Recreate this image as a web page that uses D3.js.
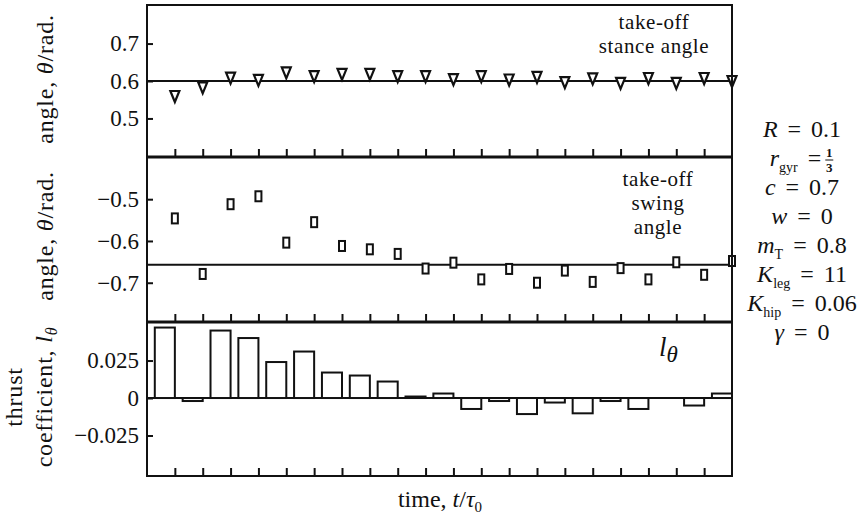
<!DOCTYPE html>
<html>
<head>
<meta charset="utf-8">
<script src="https://cdn.jsdelivr.net/npm/d3@7"></script>
<style>
  body { margin: 0; background: #fff; }
  svg text { font-family: "Liberation Serif", "Times New Roman", serif; fill: #111; }
</style>
</head>
<body>
<div id="viz"></div>
<script>
const width = 862;
const height = 522;

// step number along the time axis
const steps = [1, 2, 3, 4, 5, 6, 7, 8, 9, 10, 11, 12, 13, 14, 15, 16, 17, 18, 19, 20, 21];
const stepTicks = [1, 2, 3, 4, 5, 6, 7, 8, 9, 10, 11, 12, 13, 14, 15, 16, 17, 18, 19, 20];

// take-off stance angle (rad)
const stanceAngle = [0.560, 0.583, 0.609, 0.603, 0.623, 0.613, 0.619, 0.619, 0.613, 0.613, 0.605,
  0.613, 0.604, 0.611, 0.597, 0.607, 0.595, 0.608, 0.595, 0.608, 0.600];
const stanceRef = 0.6;

// take-off swing angle (rad)
const swingAngle = [-0.546, -0.679, -0.512, -0.493, -0.604, -0.555, -0.612, -0.620, -0.631, -0.666, -0.652,
  -0.692, -0.667, -0.700, -0.671, -0.698, -0.665, -0.692, -0.651, -0.681, -0.648];
const swingRef = -0.657;

// thrust coefficient l_theta
const thrust = [0.047, -0.002, 0.045, 0.040, 0.024, 0.031, 0.017, 0.015, 0.011, 0.001, 0.003,
  -0.0073, -0.002, -0.0107, -0.003, -0.0102, -0.002, -0.0073, 0, -0.005, 0.003];

const stanceTicks = [0.5, 0.6, 0.7];
const stanceLabels = ["0.5", "0.6", "0.7"];
const swingTicks = [-0.7, -0.6, -0.5];
const swingLabels = ["\u22120.7", "\u22120.6", "\u22120.5"];
const thrustTicks = [-0.025, 0, 0.025];
const thrustLabels = ["\u22120.025", "0", "0.025"];

// parameter list on the right
const paramSymbols = ["R", "r", "c", "w", "m", "K", "K", "\u03b3"];
const paramSubs = [null, "gyr", null, null, "T", "leg", "hip", null];
const paramValues = ["0.1", null, "0.7", "0", "0.8", "11", "0.06", "0"];

const svg = d3.select("#viz")
  .append("svg")
  .attr("width", width)
  .attr("height", height);

const left = 147, right = 732;
const x = d3.scaleLinear().domain([0, 21]).range([left, right]);

const yStance = d3.scaleLinear().domain([0.397, 0.803]).range([157, 5]);
const ySwing = d3.scaleLinear().domain([-0.794, -0.399]).range([322, 157]);
const yThrust = d3.scaleLinear().domain([-0.052, 0.0507]).range([476, 322]);

// y axes with inward ticks
function yAxis(scale, ticks, labels) {
  const g = svg.append("g")
    .attr("transform", `translate(${left},0)`)
    .call(d3.axisLeft(scale)
      .tickValues(ticks)
      .tickSize(-6)
      .tickPadding(8)
      .tickFormat((d, i) => labels[i]));
  g.select(".domain").remove();
  g.selectAll(".tick line").attr("stroke", "#111").attr("stroke-width", 2);
  g.selectAll(".tick text")
    .attr("font-size", 23)
    .attr("fill", "#111");
}
yAxis(yStance, stanceTicks, stanceLabels);
yAxis(ySwing, swingTicks, swingLabels);
yAxis(yThrust, thrustTicks, thrustLabels);

// x ticks at the bottom of every panel, pointing up
[157, 322, 476].forEach(yb => {
  const g = svg.append("g")
    .attr("transform", `translate(0,${yb})`)
    .call(d3.axisBottom(x).tickValues(stepTicks).tickSize(-8).tickFormat(""));
  g.select(".domain").remove();
  g.selectAll(".tick line").attr("stroke", "#111").attr("stroke-width", 2);
});

// reference lines
svg.append("line")
  .attr("x1", left).attr("x2", right)
  .attr("y1", yStance(stanceRef)).attr("y2", yStance(stanceRef))
  .attr("stroke", "#111").attr("stroke-width", 2);
svg.append("line")
  .attr("x1", left).attr("x2", right)
  .attr("y1", ySwing(swingRef)).attr("y2", ySwing(swingRef))
  .attr("stroke", "#111").attr("stroke-width", 2);
svg.append("line")
  .attr("x1", left).attr("x2", right)
  .attr("y1", yThrust(0)).attr("y2", yThrust(0))
  .attr("stroke", "#111").attr("stroke-width", 2);

// thrust bars, right edge on the step tick
const barW = x(0.72) - x(0);
svg.append("g")
  .selectAll("rect")
  .data(thrust)
  .join("rect")
  .attr("x", (d, i) => x(steps[i]) - barW)
  .attr("y", d => yThrust(Math.max(d, 0)))
  .attr("width", barW)
  .attr("height", d => Math.abs(yThrust(d) - yThrust(0)))
  .attr("fill", "#fff")
  .attr("stroke", "#111")
  .attr("stroke-width", 2)
  .style("display", d => d === 0 ? "none" : null);

// stance angle: downward triangles
svg.append("g")
  .selectAll("path")
  .data(stanceAngle)
  .join("path")
  .attr("transform", (d, i) => `translate(${x(steps[i])},${yStance(d)})`)
  .attr("d", "M-4.5,-5L4.5,-5L0,6Z")
  .attr("fill", "#fff")
  .attr("stroke", "#111")
  .attr("stroke-width", 2.2);

// swing angle: narrow upright rectangles
svg.append("g")
  .selectAll("rect")
  .data(swingAngle)
  .join("rect")
  .attr("x", (d, i) => x(steps[i]) - 3)
  .attr("y", d => ySwing(d) - 5)
  .attr("width", 6)
  .attr("height", 10)
  .attr("fill", "#fff")
  .attr("stroke", "#111")
  .attr("stroke-width", 2);

// frame
svg.append("rect")
  .attr("x", left).attr("y", 5)
  .attr("width", right - left).attr("height", 476 - 5)
  .attr("fill", "none")
  .attr("stroke", "#111")
  .attr("stroke-width", 2);
[157, 322].forEach(yy => {
  svg.append("line")
    .attr("x1", left).attr("x2", right)
    .attr("y1", yy).attr("y2", yy)
    .attr("stroke", "#111").attr("stroke-width", 3);
});

// y axis titles
function angleTitle(cy) {
  const t = svg.append("text")
    .attr("transform", `translate(53,${cy}) rotate(-90)`)
    .attr("text-anchor", "middle")
    .attr("font-size", 24)
    .attr("letter-spacing", 0.8);
  t.append("tspan").text("angle, ");
  t.append("tspan").attr("font-style", "italic").text("\u03b8");
  t.append("tspan").text("/rad.");
}
angleTitle(79);
angleTitle(236);

svg.append("text")
  .attr("transform", "translate(22,397) rotate(-90)")
  .attr("text-anchor", "middle")
  .attr("font-size", 24)
  .attr("letter-spacing", 0.8)
  .text("thrust");
const ct = svg.append("text")
  .attr("transform", "translate(52,397) rotate(-90)")
  .attr("text-anchor", "middle")
  .attr("font-size", 24)
  .attr("letter-spacing", 0.8);
ct.append("tspan").text("coefficient, ");
ct.append("tspan").attr("font-style", "italic").text("l");
ct.append("tspan").attr("font-style", "italic").attr("font-size", 16).attr("dy", 5).text("\u03b8");

// x axis title
const xt = svg.append("text")
  .attr("x", 440).attr("y", 507)
  .attr("text-anchor", "middle")
  .attr("font-size", 24);
xt.append("tspan").text("time, ");
xt.append("tspan").attr("font-style", "italic").text("t");
xt.append("tspan").text("/");
xt.append("tspan").attr("font-style", "italic").text("\u03c4");
xt.append("tspan").attr("font-size", 15).attr("dy", 5).text("0");

// panel annotations
function note(lines, cx, y0, dy) {
  lines.forEach((s, i) => {
    svg.append("text")
      .attr("x", cx).attr("y", y0 + i * dy)
      .attr("text-anchor", "middle")
      .attr("font-size", 21)
      .attr("letter-spacing", 0.6)
      .text(s);
  });
}
note(["take-off", "stance angle"], 654, 29, 24);
note(["take-off", "swing", "angle"], 658, 186, 24);

const lt = svg.append("text")
  .attr("x", 659).attr("y", 356)
  .attr("font-size", 27);
lt.append("tspan").attr("font-style", "italic").text("l");
lt.append("tspan").attr("font-style", "italic").attr("font-size", 23).attr("dy", 6).text("\u03b8");

// parameter list
paramSymbols.forEach((sym, i) => {
  const g = svg.append("g");
  const t = g.append("text")
    .attr("x", 0).attr("y", 0)
    .attr("font-size", 24)
    .attr("word-spacing", 4);
  t.append("tspan").attr("font-style", "italic").text(sym);
  if (paramSubs[i]) {
    t.append("tspan").attr("font-size", 14).attr("dy", 6).text(paramSubs[i]);
    t.append("tspan").attr("dy", -6).text(" = " + (paramValues[i] || ""));
  } else {
    t.append("tspan").text(" = " + paramValues[i]);
  }
  let w = t.node().getComputedTextLength();
  if (!paramValues[i]) {
    // one third as a small stacked fraction
    const fx = w + 8;
    g.append("text").attr("x", fx).attr("y", -9).attr("font-size", 13)
      .attr("text-anchor", "middle").attr("font-weight", "bold").text("1");
    g.append("line").attr("x1", fx - 4).attr("x2", fx + 4)
      .attr("y1", -6).attr("y2", -6).attr("stroke", "#111").attr("stroke-width", 1);
    g.append("text").attr("x", fx).attr("y", 6).attr("font-size", 13)
      .attr("text-anchor", "middle").attr("font-weight", "bold").text("3");
    w = fx + 5;
  }
  g.attr("transform", `translate(${802 - w / 2},${137 + i * 29})`);
});
</script>
</body>
</html>
